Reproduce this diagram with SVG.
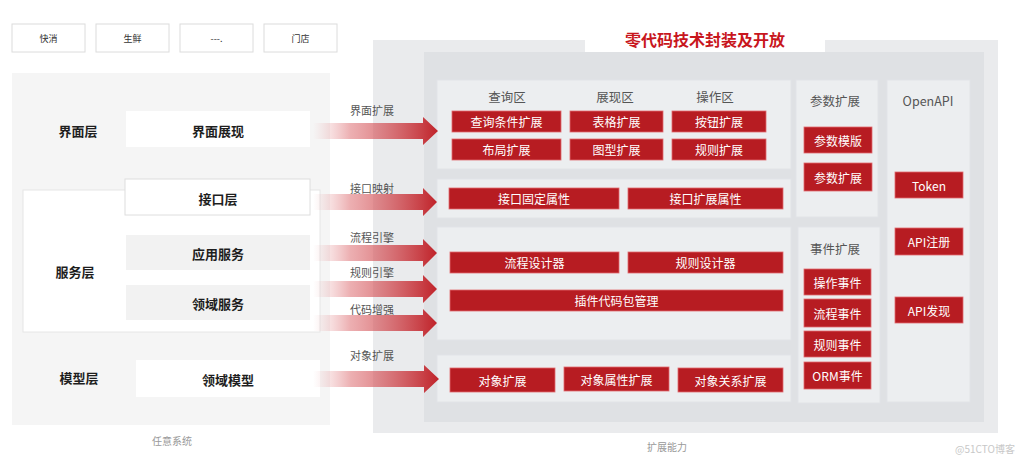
<svg xmlns="http://www.w3.org/2000/svg" width="1024" height="461" viewBox="0 0 1024 461">
<defs>
<linearGradient id="ag" x1="0" y1="0" x2="1" y2="0">
<stop offset="0" stop-color="#e8a0a2" stop-opacity="0"/>
<stop offset="0.3" stop-color="#e07a7e" stop-opacity="0.6"/>
<stop offset="1" stop-color="#c0232a"/>
</linearGradient>
<style>
text{font-family:"Noto Sans CJK SC","Noto Sans",sans-serif;text-anchor:middle;dominant-baseline:central}
.tb{fill:#fff;stroke:#dcdcdc;stroke-width:1}
.tt{font-size:9px;fill:#333}
.lab{font-size:13px;font-weight:bold;fill:#1e1e1e}
.wb{fill:#fff}
.gb{fill:#f2f2f2}
.sec{fill:#eceef0;stroke:#e2e4e7;stroke-width:1}
.rb{fill:#b71c22;stroke:#e06a6e;stroke-width:0.8}
.rt{font-size:12px;fill:#fff}
.hd{font-size:12.5px;fill:#555}
.al{font-size:11px;fill:#555}
.cap{font-size:10px;fill:#999}
</style>
</defs>
<rect width="1024" height="461" fill="#fff"/>

<g id="top-boxes">
<rect class="tb" x="12" y="24" width="73" height="28"/><text class="tt" x="48.5" y="38">快消</text>
<rect class="tb" x="96" y="24" width="73" height="28"/><text class="tt" x="132.5" y="38">生鲜</text>
<rect class="tb" x="180" y="24" width="73" height="28"/><text class="tt" x="216.5" y="38">---.</text>
<rect class="tb" x="264" y="24" width="73" height="28"/><text class="tt" x="300.5" y="38">门店</text>
</g>

<g id="left-panel">
<rect x="12" y="73" width="318" height="352" fill="#f5f5f5"/>
<text class="lab" x="78" y="130">界面层</text>
<g id="ui-show"><rect class="wb" x="126" y="111" width="184" height="36"/><text class="lab" x="218" y="130">界面展现</text></g>
<rect x="23" y="190" width="297" height="142" fill="#fff" stroke="#e6e6e6"/>
<g id="api-layer"><rect class="wb" x="125" y="179" width="185" height="36" stroke="#dedede"/><text class="lab" x="218" y="198">接口层</text></g>
<text class="lab" x="75" y="271">服务层</text>
<g id="app-svc"><rect class="gb" x="126" y="235" width="184" height="35"/><text class="lab" x="218" y="253">应用服务</text></g>
<g id="domain-svc"><rect class="gb" x="126" y="285" width="184" height="35"/><text class="lab" x="218" y="303">领域服务</text></g>
<text class="lab" x="79" y="377">模型层</text>
<g id="domain-model"><rect class="wb" x="136" y="360" width="184" height="37"/><text class="lab" x="228" y="379">领域模型</text></g>
<text class="cap" x="172" y="440">任意系统</text>
</g>

<g id="right-panel">
<rect x="373" y="40" width="625" height="393" fill="#eaebed"/>
<rect x="424" y="52" width="560" height="370" fill="#dfe1e4"/>
<g id="title"><rect x="585" y="25" width="240" height="27" fill="#fff"/><text x="705" y="39" font-size="16" font-weight="bold" fill="#c8161d">零代码技术封装及开放</text></g>

<g id="sec-ui">
<rect class="sec" x="437" y="80" width="354" height="89"/>
<text class="hd" x="507" y="96">查询区</text>
<text class="hd" x="615" y="96">展现区</text>
<text class="hd" x="715" y="96">操作区</text>
<rect class="rb" x="452" y="111" width="109" height="21"/><text class="rt" x="506.5" y="121.5">查询条件扩展</text>
<rect class="rb" x="570" y="111" width="93" height="21"/><text class="rt" x="616.5" y="121.5">表格扩展</text>
<rect class="rb" x="672" y="111" width="94" height="21"/><text class="rt" x="719" y="121.5">按钮扩展</text>
<rect class="rb" x="452" y="139" width="109" height="21"/><text class="rt" x="506.5" y="149.5">布局扩展</text>
<rect class="rb" x="570" y="139" width="93" height="21"/><text class="rt" x="616.5" y="149.5">图型扩展</text>
<rect class="rb" x="672" y="139" width="94" height="21"/><text class="rt" x="719" y="149.5">规则扩展</text>
</g>

<g id="sec-api">
<rect class="sec" x="437" y="179" width="354" height="39"/>
<rect class="rb" x="449" y="188" width="170" height="21"/><text class="rt" x="534" y="198.5">接口固定属性</text>
<rect class="rb" x="628" y="188" width="155" height="21"/><text class="rt" x="705.5" y="198.5">接口扩展属性</text>
</g>

<g id="sec-flow">
<rect class="sec" x="437" y="227" width="354" height="113"/>
<rect class="rb" x="450" y="252" width="169" height="21"/><text class="rt" x="534.5" y="262.5">流程设计器</text>
<rect class="rb" x="628" y="252" width="155" height="21"/><text class="rt" x="705.5" y="262.5">规则设计器</text>
<rect class="rb" x="450" y="290" width="333" height="21"/><text class="rt" x="616.5" y="300.5">插件代码包管理</text>
</g>

<g id="sec-obj">
<rect class="sec" x="437" y="355" width="354" height="47"/>
<rect class="rb" x="450" y="368" width="105" height="24"/><text class="rt" x="502.5" y="380">对象扩展</text>
<rect class="rb" x="564" y="367" width="105" height="24"/><text class="rt" x="616.5" y="379">对象属性扩展</text>
<rect class="rb" x="678" y="368" width="105" height="24"/><text class="rt" x="730.5" y="380">对象关系扩展</text>
</g>

<g id="col-param">
<rect class="sec" x="796" y="80" width="82" height="137"/>
<text class="hd" x="835" y="100">参数扩展</text>
<rect class="rb" x="804" y="127" width="68" height="26"/><text class="rt" x="838" y="140">参数模版</text>
<rect class="rb" x="804" y="163" width="68" height="28"/><text class="rt" x="838" y="177">参数扩展</text>
</g>

<g id="col-event">
<rect class="sec" x="798" y="227" width="82" height="176"/>
<text class="hd" x="835" y="248">事件扩展</text>
<rect class="rb" x="804" y="269" width="67" height="26"/><text class="rt" x="837.5" y="282">操作事件</text>
<rect class="rb" x="804" y="299" width="67" height="28"/><text class="rt" x="837.5" y="313">流程事件</text>
<rect class="rb" x="804" y="331" width="67" height="26"/><text class="rt" x="837.5" y="344">规则事件</text>
<rect class="rb" x="804" y="362" width="67" height="27"/><text class="rt" x="837.5" y="375.5">ORM事件</text>
</g>

<g id="col-openapi">
<rect class="sec" x="887" y="80" width="83" height="322"/>
<text class="hd" x="928" y="100" font-size="13.5">OpenAPI</text>
<rect class="rb" x="895" y="172" width="68" height="26"/><text class="rt" x="929" y="185">Token</text>
<rect class="rb" x="895" y="228" width="68" height="27"/><text class="rt" x="929" y="241.5">API注册</text>
<rect class="rb" x="895" y="297" width="68" height="26"/><text class="rt" x="929" y="310">API发现</text>
</g>
<text class="cap" x="667" y="446">扩展能力</text>
</g>

<g id="connectors">
<path d="M313 123 H423 V117 L438 131 L423 145 V139 H313 Z" fill="url(#ag)"/>
<text class="al" x="372" y="110">界面扩展</text>
<path d="M313 194 H423 V188 L437 202 L423 216 V210 H313 Z" fill="url(#ag)"/>
<text class="al" x="372" y="188">接口映射</text>
<path d="M313 245 H423 V239 L437 253 L423 267 V261 H313 Z" fill="url(#ag)"/>
<text class="al" x="372" y="237">流程引擎</text>
<path d="M313 281 H423 V275 L437 289 L423 303 V297 H313 Z" fill="url(#ag)"/>
<text class="al" x="372" y="272">规则引擎</text>
<path d="M313 315 H423 V309 L437 323 L423 337 V331 H313 Z" fill="url(#ag)"/>
<text class="al" x="372" y="309">代码增强</text>
<path d="M313 371 H424 V365 L439 379 L424 393 V387 H313 Z" fill="url(#ag)"/>
<text class="al" x="372" y="355">对象扩展</text>
</g>

<text x="985" y="448" font-size="10" fill="#c8c8c8" font-family="Noto Sans CJK SC, sans-serif">@51CTO博客</text>
</svg>
